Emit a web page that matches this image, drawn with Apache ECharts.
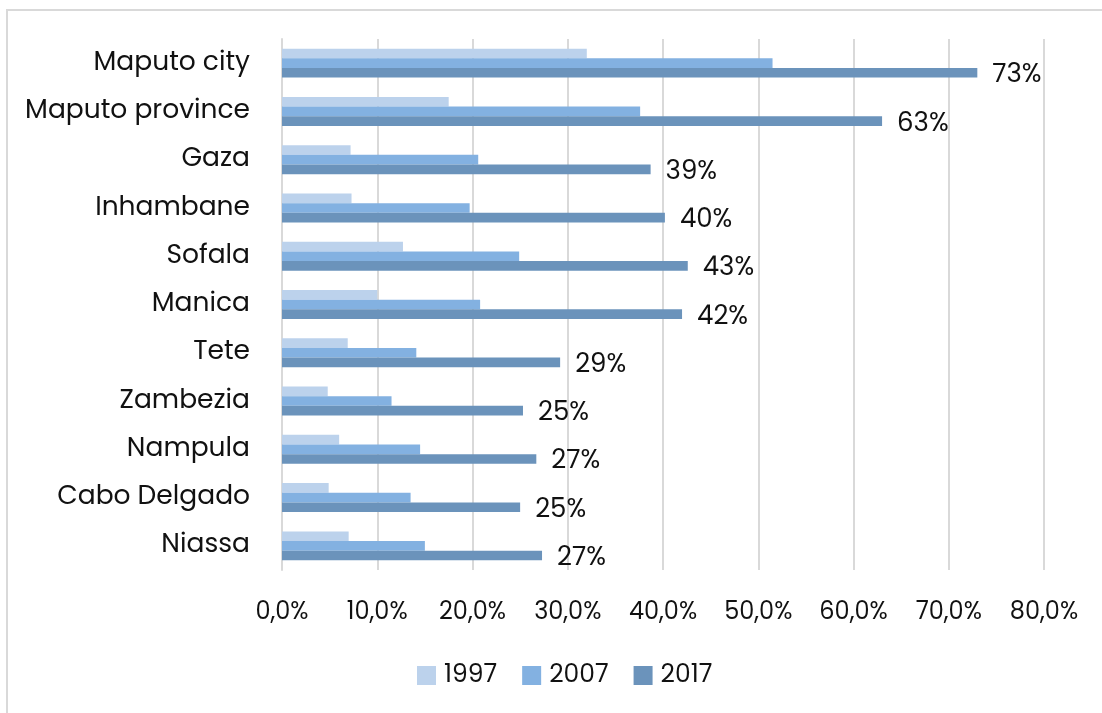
<!DOCTYPE html>
<html>
<head>
<meta charset="utf-8">
<script src="https://cdn.jsdelivr.net/npm/echarts@6/dist/echarts.min.js"></script>
<style>
  html, body { margin: 0; padding: 0; background: #fff; }
  #chart { width: 1102px; height: 713px; }
</style>
</head>
<body>
<div id="chart"></div>
<script>
// provinces, top to bottom
const provinces = ['Maputo city', 'Maputo province', 'Gaza', 'Inhambane', 'Sofala', 'Manica',
  'Tete', 'Zambezia', 'Nampula', 'Cabo Delgado', 'Niassa']
const years = ['1997', '2007', '2017']
// share in %
const values1997 = [32.0, 17.5, 7.2, 7.3, 12.7, 10.0, 6.9, 4.8, 6.0, 4.9, 7.0]
const values2007 = [51.5, 37.6, 20.6, 19.7, 24.9, 20.8, 14.1, 11.5, 14.5, 13.5, 15.0]
const values2017 = [73.0, 63.0, 38.7, 40.2, 42.6, 42.0, 29.2, 25.3, 26.7, 25.0, 27.3]
const xTicks = [0, 10, 20, 30, 40, 50, 60, 70, 80]

const colors = ['#bcd2ec', '#83b1e1', '#6b93bb']
const font = 'Poppins, "Open Sans", sans-serif'

const chart = echarts.init(document.getElementById('chart'))

const option = {
  animation: false,
  textStyle: { fontFamily: font },
  color: colors,
  graphic: [{
    type: 'rect',
    shape: { x: 7, y: 10, width: 1300, height: 900 },
    style: { fill: 'none', stroke: '#d9d9d9', lineWidth: 2 },
    silent: true
  }],
  grid: { left: 282, right: 58, top: 39, bottom: 143 },
  legend: {
    data: years,
    top: 658,
    left: 412,
    itemWidth: 19,
    itemHeight: 19,
    itemGap: 25,
    icon: 'rect',
    textStyle: { fontSize: 25, color: '#111', fontFamily: font, padding: [0, 0, 0, 3] }
  },
  xAxis: {
    type: 'value',
    min: xTicks[0],
    max: xTicks[xTicks.length - 1],
    interval: 10,
    axisLine: { show: false },
    axisTick: { show: false },
    splitLine: { lineStyle: { color: '#d9d9d9', width: 2 } },
    axisLabel: {
      margin: 31,
      fontSize: 24,
      color: '#111',
      formatter: v => v.toFixed(1).replace('.', ',') + '%'
    }
  },
  yAxis: {
    type: 'category',
    data: provinces,
    inverse: true,
    axisLine: { show: true, lineStyle: { color: '#d9d9d9', width: 2 } },
    axisTick: { show: false },
    axisLabel: { margin: 32, fontSize: 26.5, color: '#111' }
  },
  series: [
    {
      name: years[0], type: 'bar', data: values1997,
      barGap: '0%', barCategoryGap: '40%'
    },
    {
      name: years[1], type: 'bar', data: values2007,
      barGap: '0%', barCategoryGap: '40%'
    },
    {
      name: years[2], type: 'bar', data: values2017,
      barGap: '0%', barCategoryGap: '40%',
      label: {
        show: true,
        position: 'right',
        distance: 15,
        offset: [0, 3],
        fontSize: 26,
        color: '#111',
        formatter: p => Math.round(p.value) + '%'
      }
    }
  ]
}

chart.setOption(option)
</script>
</body>
</html>
